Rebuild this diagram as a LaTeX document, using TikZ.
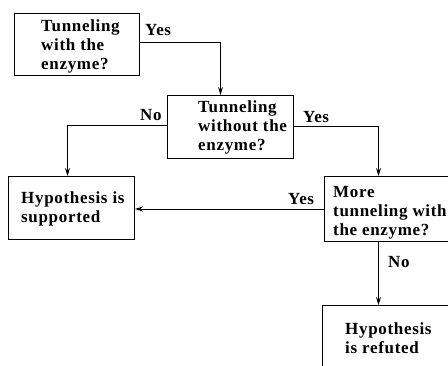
\documentclass[tikz,border=0pt]{standalone}
\usepackage{fontspec}
\setmainfont{Liberation Serif}[LetterSpace=4]
\usetikzlibrary{arrows.meta}

\tikzset{
  qbox/.style={draw,line width=1pt,inner sep=0pt,anchor=north west},
  qtext/.style={inner sep=0pt,anchor=north west,align=left,font=\fontsize{17}{19}\selectfont\bfseries},
  answer/.style={inner sep=0pt,anchor=base west,font=\fontsize{17}{19}\selectfont\bfseries},
  flow/.style={line width=1pt,-{Stealth[length=8pt,width=5pt]}}
}

\begin{document}
\begin{tikzpicture}[x=1pt,y=-1pt]
        \useasboundingbox (0,0) rectangle (448,365);
        \clip (0,0) rectangle (448,365);

        \node[qbox,minimum width=125pt,minimum height=62pt] (q1) at (14,13) {};
        \node[qbox,minimum width=126pt,minimum height=63pt] (q2) at (167,95) {};
        \node[qbox,minimum width=126pt,minimum height=63pt] (q3) at (8,176) {};
        \node[qbox,minimum width=134pt,minimum height=65pt] (q4) at (324,176) {};
        \node[qbox,minimum width=136pt,minimum height=70pt] (q5) at (322,305) {};

        \node[qtext] (q1t) at ([shift={(27,6)}]q1.north west) {Tunneling\\with the\\enzyme?};
        \node[qtext] (q2t) at ([shift={(31,5)}]q2.north west) {Tunneling\\without the\\enzyme?};
        \node[qtext] (q3t) at ([shift={(13,15)}]q3.north west) {Hypothesis is\\supported};
        \node[qtext] (q4t) at ([shift={(9,10)}]q4.north west) {More\\tunneling with\\the enzyme?};
        \node[qtext] (q5t) at ([shift={(23,17)}]q5.north west) {Hypothesis\\is refuted};

        \node[answer] (yes1) at (145,35.7) {Yes};
        \node[answer] (no1) at (140,120) {No};
        \node[answer] (yes2) at (303,122) {Yes};
        \node[answer] (yes3) at (288,204) {Yes};
        \node[answer] (no2) at (388,267) {No};

        \draw[flow] ([yshift=2pt]q1.east) -| ([xshift=-10pt]q2.north);
        \draw[flow] ([yshift=2pt]q2.west) -| ([xshift=-4pt]q3.north);
        \draw[flow] ([yshift=1pt]q2.east) -| ([xshift=-13pt]q4.north);
        \draw[flow] (q4.west) -- (q4.west -| q3.east);
        \draw[flow] ([xshift=-13pt]q4.south) -- ([xshift=-13pt]q4.south |- q5.north);
      \end{tikzpicture}
\end{document}
